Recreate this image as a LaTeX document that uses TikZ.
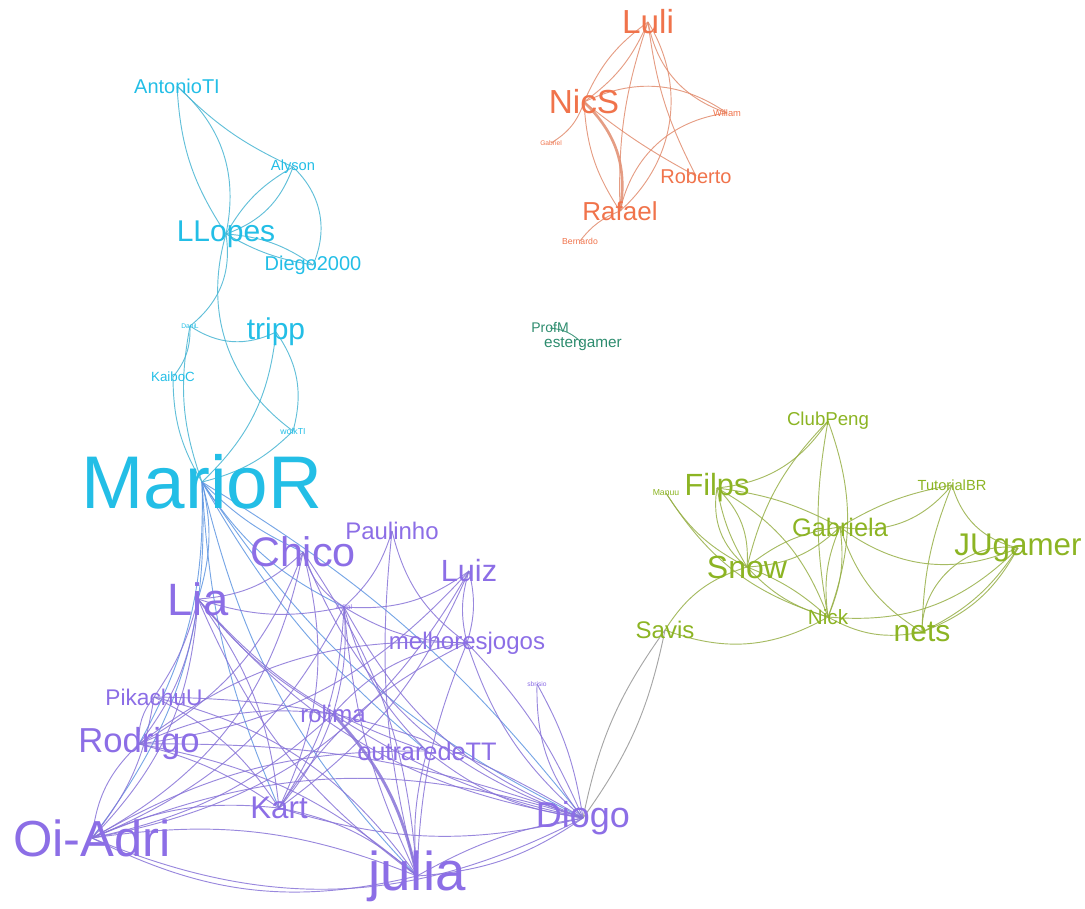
\documentclass[tikz,border=0pt]{standalone}
\usepackage{fontspec}
\setmainfont{Liberation Sans}
\usetikzlibrary{backgrounds}
\definecolor{gcyan}{RGB}{35,190,230}
\definecolor{gcyanlink}{RGB}{70,180,210}
\definecolor{gorange}{RGB}{240,115,75}
\definecolor{gorangelink}{RGB}{225,140,110}
\definecolor{gteal}{RGB}{45,140,110}
\definecolor{ggreen}{RGB}{140,180,35}
\definecolor{ggreenlink}{RGB}{150,175,70}
\definecolor{gpurple}{RGB}{140,110,230}
\definecolor{gpurplelink}{RGB}{135,115,215}
\definecolor{gmixlink}{RGB}{95,150,225}
\definecolor{ggreylink}{RGB}{150,150,150}
\newcommand{\lblsize}[1]{\fontsize{#1}{#1}\selectfont}
\tikzset{
  lbl/.style={inner sep=0pt, anchor=center},
  cyanlbl/.style={lbl, text=gcyan},
  orangelbl/.style={lbl, text=gorange},
  teallbl/.style={lbl, text=gteal},
  greenlbl/.style={lbl, text=ggreen},
  purplelbl/.style={lbl, text=gpurple},
  link/.style={line width=0.7pt, opacity=0.85},
  cyanlink/.style={link, draw=gcyanlink},
  orangelink/.style={link, draw=gorangelink},
  teallink/.style={link, draw=gteal},
  greenlink/.style={link, draw=ggreenlink},
  purplelink/.style={link, draw=gpurplelink},
  mixlink/.style={link, draw=gmixlink},
  greylink/.style={link, draw=ggreylink}
}
\begin{document}
\begin{tikzpicture}[x=0.75pt,y=-0.75pt]
  \useasboundingbox (0,0) rectangle (1085,909);

  % cyan group
  \node[cyanlbl,font=\lblsize{15}] (antonio) at (177,86) {AntonioTI};
  \node[cyanlbl,font=\lblsize{11}] (alyson) at (293,167) {Alyson};
  \node[cyanlbl,font=\lblsize{22.5}] (llopes) at (226,234) {LLopes};
  \node[cyanlbl,font=\lblsize{15}] (diego) at (313,265) {Diego2000};
  \node[cyanlbl,font=\lblsize{5}] (danil) at (190,326) {DaniL};
  \node[cyanlbl,font=\lblsize{22.5}] (tripp) at (276,332) {tripp};
  \node[cyanlbl,font=\lblsize{10}] (kaibo) at (173,377) {KaiboC};
  \node[cyanlbl,font=\lblsize{6.5}] (wolk) at (293,431) {wolkTI};
  \node[cyanlbl,font=\lblsize{56}] (mario) at (202,482) {MarioR};

  % orange group
  \node[orangelbl,font=\lblsize{25}] (luli) at (648,22) {Luli};
  \node[orangelbl,font=\lblsize{25}] (nics) at (584,102) {NicS};
  \node[orangelbl,font=\lblsize{5}] (gabriel) at (551,143) {Gabriel};
  \node[orangelbl,font=\lblsize{7}] (willam) at (727,113) {Willam};
  \node[orangelbl,font=\lblsize{15}] (roberto) at (696,176) {Roberto};
  \node[orangelbl,font=\lblsize{19.5}] (rafael) at (620,211) {Rafael};
  \node[orangelbl,font=\lblsize{6.5}] (bernardo) at (580,241) {Bernardo};

  % teal pair
  \node[teallbl,font=\lblsize{10.5}] (profm) at (550,328) {ProfM};
  \node[teallbl,font=\lblsize{11.5}] (ester) at (583,344) {estergamer};

  % green group
  \node[greenlbl,font=\lblsize{14}] (club) at (828,421) {ClubPeng};
  \node[greenlbl,font=\lblsize{23}] (filps) at (717,488) {Filps};
  \node[greenlbl,font=\lblsize{6.5}] (manuu) at (666,493) {Manuu};
  \node[greenlbl,font=\lblsize{11}] (tutorial) at (952,485) {TutorialBR};
  \node[greenlbl,font=\lblsize{19}] (gabriela) at (840,527) {Gabriela};
  \node[greenlbl,font=\lblsize{23.5}] (jugamer) at (1018,548) {JUgamer};
  \node[greenlbl,font=\lblsize{24}] (snow) at (747,567) {Snow};
  \node[greenlbl,font=\lblsize{15.5}] (nick) at (828,617) {Nick};
  \node[greenlbl,font=\lblsize{18}] (savis) at (665,630) {Savis};
  \node[greenlbl,font=\lblsize{22.5}] (nets) at (922,632) {nets};

  % purple group
  \node[purplelbl,font=\lblsize{18}] (paulinho) at (392,531) {Paulinho};
  \node[purplelbl,font=\lblsize{31}] (chico) at (303,552) {Chico};
  \node[purplelbl,font=\lblsize{23}] (luiz) at (469,571) {Luiz};
  \node[purplelbl,font=\lblsize{34}] (lia) at (198,599) {Lia};
  \node[purplelbl,font=\lblsize{5}] (adilal) at (344,607) {Adilal};
  \node[purplelbl,font=\lblsize{18}] (melhores) at (467,643) {melhoresjogos};
  \node[purplelbl,font=\lblsize{17}] (pikachu) at (154,697) {PikachuU};
  \node[purplelbl,font=\lblsize{5}] (sbrisio) at (537,684) {sbrisio};
  \node[purplelbl,font=\lblsize{18}] (rolima) at (333,714) {rolima};
  \node[purplelbl,font=\lblsize{26}] (rodrigo) at (139,744) {Rodrigo};
  \node[purplelbl,font=\lblsize{19}] (outra) at (427,751) {outraredeTT};
  \node[purplelbl,font=\lblsize{23.5}] (kart) at (279,808) {Kart};
  \node[purplelbl,font=\lblsize{27}] (diogo) at (583,818) {Diogo};
  \node[purplelbl,font=\lblsize{38}] (oiadri) at (92,838) {Oi-Adri};
  \node[purplelbl,font=\lblsize{41}] (julia) at (417,876) {julia};

  \begin{scope}[on background layer]
    \foreach \a/\b/\c in {antonio/llopes/30, llopes/antonio/15, antonio/alyson/-10,
        alyson/llopes/25, llopes/alyson/15, alyson/diego/35, llopes/diego/15, diego/llopes/10,
        llopes/danil/30, llopes/wolk/-35, danil/tripp/-30, danil/kaibo/20, kaibo/mario/-15,
        danil/mario/-15, tripp/mario/20, tripp/wolk/25, wolk/mario/15}
      \draw[cyanlink] (\a.center) to[bend left=\c] (\b.center);

    \foreach \a/\b/\c in {luli/nics/15, nics/luli/15, luli/rafael/40, luli/rafael/-10,
        luli/roberto/-10, luli/willam/-30, nics/gabriel/20, nics/rafael/-15,
        nics/willam/30, nics/roberto/-5, willam/rafael/-35, rafael/bernardo/-15}
      \draw[orangelink] (\a.center) to[bend left=\c] (\b.center);
    \draw[orangelink,line width=2pt] (nics.center) to[bend left=28] (rafael.center);

    \draw[teallink] (profm.center) to[bend left=20] (ester.center);

    \foreach \a/\b/\c in {club/filps/25, club/snow/-15, club/nick/20, club/nick/-10,
        filps/snow/25, filps/snow/-10, filps/snow/-30, filps/gabriela/10, filps/nick/20,
        manuu/snow/-15, manuu/nick/-20, snow/gabriela/-20, gabriela/snow/-15,
        snow/nick/10, snow/nick/-15, gabriela/nick/15, gabriela/nick/-15,
        gabriela/tutorial/-30, gabriela/tutorial/10, gabriela/jugamer/-30, gabriela/nets/-20,
        tutorial/nets/-10, tutorial/jugamer/-30, nick/jugamer/-25, nick/nets/-20,
        jugamer/nets/15, nets/jugamer/-20, jugamer/nets/-50, savis/nick/-25, snow/savis/-20}
      \draw[greenlink] (\a.center) to[bend left=\c] (\b.center);
    \draw[greylink] (savis.center) to[bend left=12] (diogo.center);
    \draw[greylink] (savis.center) to[bend left=-12] (diogo.center);

    \foreach \a/\b/\c in {mario/lia/15, mario/rodrigo/15, mario/oiadri/20, mario/kart/-10,
        mario/julia/-15, mario/diogo/-15, mario/diogo/10, mario/adilal/-15, mario/chico/-10,
        mario/outra/-10}
      \draw[mixlink] (\a.center) to[bend left=\c] (\b.center);

    \foreach \a/\b/\c in {lia/chico/-20, lia/adilal/-15, lia/rolima/-10, lia/kart/15, lia/julia/-15,
        lia/rodrigo/15, lia/oiadri/20, lia/pikachu/10, lia/diogo/-20, lia/outra/-15,
        chico/adilal/-20, chico/kart/20, chico/julia/15, chico/oiadri/25, chico/rodrigo/20, chico/diogo/-25,
        paulinho/adilal/15, paulinho/melhores/-20, paulinho/julia/-10,
        luiz/adilal/20, luiz/melhores/15, melhores/luiz/15, luiz/kart/15, luiz/oiadri/25, luiz/rodrigo/20,
        adilal/rolima/10, adilal/julia/-10, adilal/diogo/-20, adilal/kart/15, adilal/oiadri/20,
        adilal/outra/-15, adilal/melhores/-15,
        melhores/diogo/-15, melhores/diogo/10, melhores/julia/-10, melhores/rolima/-20,
        melhores/rodrigo/-20, melhores/kart/-15,
        sbrisio/diogo/-20, sbrisio/diogo/10,
        pikachu/oiadri/15, pikachu/rodrigo/-20, pikachu/julia/20, pikachu/kart/15, pikachu/diogo/15,
        rolima/kart/10, rolima/oiadri/15, rolima/rodrigo/-15, rolima/diogo/-10,
        rodrigo/julia/15, rodrigo/oiadri/-20, rodrigo/kart/10, rodrigo/diogo/10,
        outra/julia/-10, outra/diogo/-15, outra/oiadri/-15,
        kart/julia/15, kart/oiadri/-15, kart/diogo/-15,
        diogo/julia/-10, diogo/julia/15, diogo/oiadri/-20, oiadri/diogo/-25,
        oiadri/julia/15, oiadri/julia/-20}
      \draw[purplelink] (\a.center) to[bend left=\c] (\b.center);
    \draw[purplelink,line width=2.2pt] (rolima.center) to[bend left=15] (julia.center);
  \end{scope}
\end{tikzpicture}
\end{document}
